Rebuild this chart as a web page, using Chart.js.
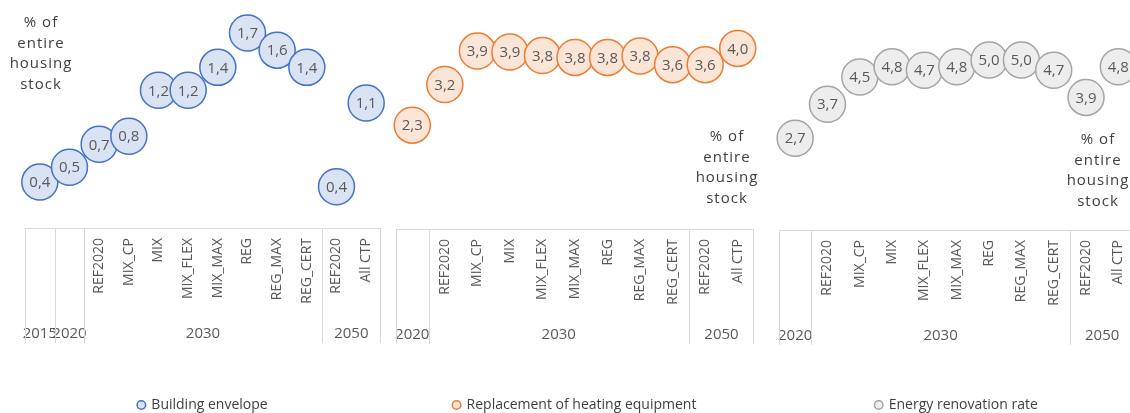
<!DOCTYPE html>
<html>
<head>
<meta charset="utf-8">
<script src="https://cdn.jsdelivr.net/npm/chart.js@4"></script>
<style>
  html, body { margin: 0; padding: 0; background: #fff; overflow: hidden; width: 1130px; height: 413px; position: relative; }
  canvas { position: absolute; top: 0; }
</style>
</head>
<body>
<canvas id="envelopeChart" width="390" height="422" style="left:0px"></canvas>
<canvas id="heatingChart" width="380" height="422" style="left:390px"></canvas>
<canvas id="renovationChart" width="380" height="422" style="left:770px"></canvas>
<script>
const FONT = "'Open Sans', sans-serif";

// lower level categories and the year each one belongs to
const envelopeScenarios = ['', '', 'REF2020', 'MIX_CP', 'MIX', 'MIX_FLEX', 'MIX_MAX', 'REG', 'REG_MAX', 'REG_CERT', 'REF2020', 'All CTP'];
const envelopeYears = ['2015', '2020', '2030', '2030', '2030', '2030', '2030', '2030', '2030', '2030', '2050', '2050'];
const scenarios = ['', 'REF2020', 'MIX_CP', 'MIX', 'MIX_FLEX', 'MIX_MAX', 'REG', 'REG_MAX', 'REG_CERT', 'REF2020', 'All CTP'];
const scenarioYears = ['2020', '2030', '2030', '2030', '2030', '2030', '2030', '2030', '2030', '2050', '2050'];

// % of entire housing stock
const envelopeValues = [0.4, 0.53, 0.73, 0.8, 1.2, 1.2, 1.4, 1.7, 1.55, 1.4, 0.36, 1.09];
const heatingValues = [2.3, 3.2, 3.94, 3.92, 3.84, 3.8, 3.8, 3.83, 3.64, 3.64, 4.0];
const renovationValues = [2.7, 3.7, 4.5, 4.8, 4.7, 4.8, 5.0, 5.0, 4.7, 3.9, 4.8];

const unitLines = ['% of', 'entire', 'housing', 'stock'];

const decorPlugin = {
    id: 'decor',
    afterDatasetsDraw(chart) {
        const ctx = chart.ctx;
        const meta = chart.getDatasetMeta(0);
        const values = chart.data.datasets[0].data;
        ctx.save();
        ctx.font = '15px ' + FONT;
        ctx.fillStyle = '#595959';
        ctx.textAlign = 'center';
        ctx.textBaseline = 'middle';
        meta.data.forEach((pt, i) => {
            ctx.fillText(values[i].toFixed(1).replace('.', ','), pt.x, pt.y + 1);
        });
        ctx.restore();
    },
    afterDraw(chart, args, opts) {
        const ctx = chart.ctx;
        const xs = chart.scales.x;
        const area = chart.chartArea;
        const labels = chart.data.labels;
        const years = opts.years;
        const cell = (area.right - area.left) / labels.length;
        const bottom = area.bottom;

        ctx.save();
        ctx.strokeStyle = '#D9D9D9';
        ctx.lineWidth = 1;
        ctx.beginPath();
        ctx.moveTo(area.left, bottom + 0.5);
        ctx.lineTo(area.right, bottom + 0.5);

        // year groups: separators and labels
        ctx.fillStyle = '#595959';
        ctx.font = '15px ' + FONT;
        ctx.textAlign = 'center';
        ctx.textBaseline = 'middle';
        let start = 0;
        for (let i = 1; i <= labels.length; i++) {
            if (i === labels.length || years[i] !== years[i - 1]) {
                const x0 = xs.getPixelForValue(start) - cell / 2;
                const x1 = xs.getPixelForValue(i - 1) + cell / 2;
                ctx.moveTo(Math.round(x0) + 0.5, bottom);
                ctx.lineTo(Math.round(x0) + 0.5, bottom + 115);
                if (i === labels.length) {
                    ctx.moveTo(Math.round(x1) - 0.5, bottom);
                    ctx.lineTo(Math.round(x1) - 0.5, bottom + 115);
                }
                ctx.fillText(years[start], (x0 + x1) / 2, bottom + 106);
                start = i;
            }
        }
        ctx.stroke();

        // rotated scenario labels
        ctx.font = '14px ' + FONT;
        ctx.textAlign = 'right';
        labels.forEach((lab, i) => {
            if (!lab) return;
            ctx.save();
            ctx.translate(xs.getPixelForValue(i), bottom + 10);
            ctx.rotate(-Math.PI / 2);
            ctx.fillText(lab, 0, 0);
            ctx.restore();
        });

        // unit note
        ctx.fillStyle = '#404040';
        ctx.font = '15px ' + FONT;
        ctx.textAlign = 'center';
        ctx.letterSpacing = '1px';
        unitLines.forEach((t, k) => {
            ctx.fillText(t, opts.noteX, opts.noteY + k * 20.5);
        });
        ctx.restore();
    }
};

function makeChart(id, cfg) {
    return new Chart(document.getElementById(id), {
        type: 'line',
        data: {
            labels: cfg.labels,
            datasets: [{
                label: cfg.name,
                data: cfg.values,
                showLine: false,
                pointStyle: 'circle',
                pointRadius: 18,
                pointHoverRadius: 18,
                borderWidth: 1.5,
                backgroundColor: cfg.fill,
                borderColor: cfg.line,
                clip: false
            }]
        },
        options: {
            responsive: false,
            animation: false,
            layout: { padding: cfg.padding, autoPadding: false },
            scales: {
                x: {
                    type: 'category',
                    offset: true,
                    grid: { display: false },
                    border: { display: false },
                    ticks: { display: false },
                    afterFit: s => { s.height = cfg.axisHeight; }
                },
                y: { display: false, min: 0, max: cfg.max }
            },
            plugins: {
                tooltip: { enabled: false },
                legend: {
                    position: 'bottom',
                    labels: {
                        usePointStyle: true,
                        boxWidth: 6,
                        boxHeight: 6,
                        padding: 10,
                        color: '#404040',
                        font: { family: FONT, size: 14 }
                    }
                },
                decor: { years: cfg.years, noteX: cfg.noteX, noteY: cfg.noteY }
            }
        },
        plugins: [decorPlugin]
    });
}

makeChart('envelopeChart', {
    name: 'Building envelope', labels: envelopeScenarios, years: envelopeYears, values: envelopeValues,
    fill: '#DAE3F3', line: '#4472C4', max: 1.9, axisHeight: 160,
    padding: { left: 25, right: 9, top: 10, bottom: 0 }, noteX: 41, noteY: 23
});
makeChart('heatingChart', {
    name: 'Replacement of heating equipment', labels: scenarios, years: scenarioYears, values: heatingValues,
    fill: '#FBE5D6', line: '#ED7D31', max: 4.85, axisHeight: 159,
    padding: { left: 6, right: 16, top: 10, bottom: 0 }, noteX: 337, noteY: 137
});
makeChart('renovationChart', {
    name: 'Energy renovation rate', labels: scenarios, years: scenarioYears, values: renovationValues,
    fill: '#EDEDED', line: '#A5A5A5', max: 6.47, axisHeight: 158,
    padding: { left: 9, right: 15.5, top: 10, bottom: 0 }, noteX: 328, noteY: 140
});
</script>
</body>
</html>
